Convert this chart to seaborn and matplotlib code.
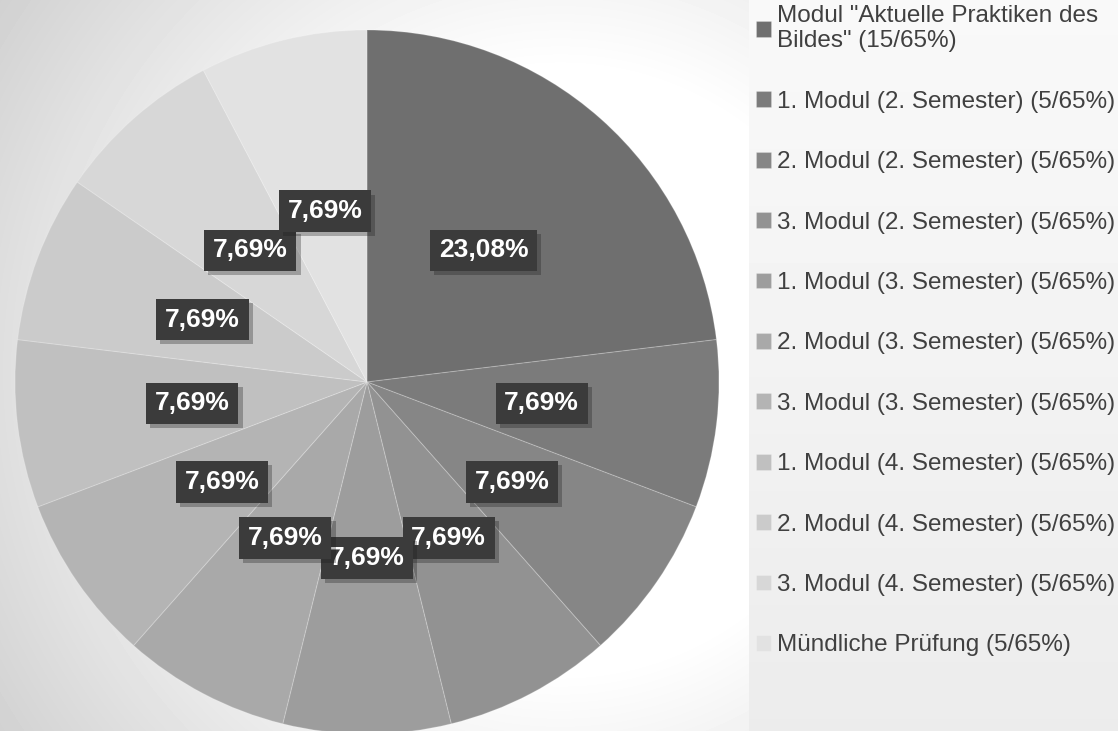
import numpy as np
import matplotlib
matplotlib.use("Agg")
import matplotlib.pyplot as plt
import matplotlib.patheffects as pe
import seaborn as sns

# Daten
modules = ['Modul "Aktuelle Praktiken des\nBildes" (15/65%)',
           '1. Modul (2. Semester) (5/65%)',
           '2. Modul (2. Semester) (5/65%)',
           '3. Modul (2. Semester) (5/65%)',
           '1. Modul (3. Semester) (5/65%)',
           '2. Modul (3. Semester) (5/65%)',
           '3. Modul (3. Semester) (5/65%)',
           '1. Modul (4. Semester) (5/65%)',
           '2. Modul (4. Semester) (5/65%)',
           '3. Modul (4. Semester) (5/65%)',
           'Mündliche Prüfung (5/65%)']
points = [15, 5, 5, 5, 5, 5, 5, 5, 5, 5, 5]

sns.set_theme(style="white")
plt.rcParams['font.family'] = ['Liberation Sans', 'DejaVu Sans']

grays = [(g, g, g) for g in np.linspace(111, 226, len(points)) / 255]

W, H = 1118, 731
fig = plt.figure(figsize=(W / 100, H / 100), dpi=100)

# hintergrund mit radialem verlauf + legendenfeld
bg = fig.add_axes([0, 0, 1, 1], zorder=-10)
yy, xx = np.mgrid[0:H, 0:W]
d = np.hypot(xx - 560, yy - 370)
shade = np.clip(1 - (d - 300) / 350 * 0.17, 0.82, 1.0)
shade[:, 749:] = np.linspace(0.975, 0.925, H)[:, None]
bg.imshow(shade, cmap='gray', vmin=0, vmax=1, extent=(0, W, H, 0), aspect='auto')
bg.set_xlim(0, W)
bg.set_ylim(H, 0)
bg.axis('off')

# kreisdiagramm
R, cx, cy, L = 352, 367, 382, 1.02
side = 2 * R * L
ax = fig.add_axes([(cx - R * L) / W, (H - cy - R * L) / H, side / W, side / H])


def fmt(p):
    return f"{p:.2f}%".replace('.', ',')


wedges, texts, autotexts = ax.pie(points, colors=grays, startangle=90, counterclock=False,
                                  autopct=fmt, pctdistance=0.5,
                                  wedgeprops=dict(edgecolor=(1, 1, 1, 0.2), linewidth=0.8))
ax.set_xlim(-L, L)
ax.set_ylim(-L, L)
ax.axis('off')

for t in autotexts:
    t.set_color('white')
    t.set_fontsize(19)
    t.set_fontweight('bold')
    t.set_bbox(dict(boxstyle='square,pad=0.33', fc='#3b3b3b', ec='none'))
    t.get_bbox_patch().set_path_effects([pe.withSimplePatchShadow(offset=(3, -3), shadow_rgbFace='k', alpha=0.3)])

leg = fig.legend(wedges, modules, loc='upper left', bbox_to_anchor=(756 / W, 1 - 5 / H),
                 frameon=False, fontsize=17.5, labelspacing=1.58, handlelength=0.62,
                 handleheight=0.62, handletextpad=0.25, borderaxespad=0, borderpad=0)
for t in leg.get_texts():
    t.set_color('#404040')

fig.savefig('out.png', dpi=100)
